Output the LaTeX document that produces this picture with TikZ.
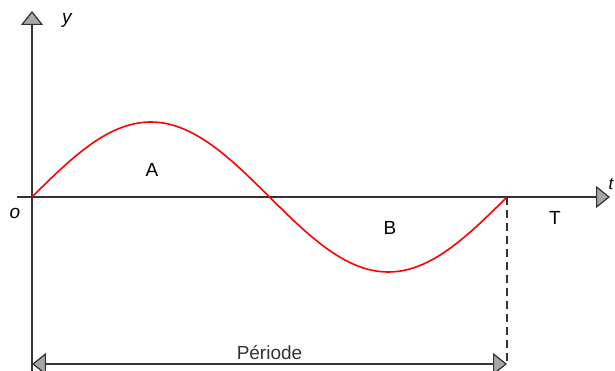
\documentclass[tikz,border=0pt]{standalone}
\usepackage{fontspec}
\setmainfont{Liberation Sans}
\usetikzlibrary{arrows.meta}

\begin{document}
\begin{tikzpicture}[
    x=1pt, y=1pt,
    >={Triangle[length=14pt, width=22pt, fill=gray!70]},
    line width=1.2pt,
    lbl/.style={font=\fontsize{19}{22}\selectfont, inner sep=0pt}
]

\useasboundingbox (-32,-174) rectangle (583,197);

% Reference points
\coordinate (O) at (0,0);
\coordinate (ytop) at (0,186);
\coordinate (ybot) at (0,-180);
\coordinate (xleft) at (-15,0);
\coordinate (xright) at (578,0);
\coordinate (Tend) at (475,0);
\coordinate (Tfoot) at (475,-168);
\coordinate (pleft) at (0,-167);
\coordinate (pright) at (475,-167);

% Axes
\draw[->, black!80] (ybot) -- (ytop);
\draw[->, black!80] (xleft) -- (xright);

% Axis labels
\node[lbl, font=\fontsize{19}{22}\selectfont\itshape] (ylab) at (35,177) {y};
\node[lbl, font=\fontsize{19}{22}\selectfont\itshape] (olab) at (-17,-16) {o};
\node[lbl, font=\fontsize{17}{20}\selectfont\itshape] (tlab) at (579,13) {t};

% Sine wave
\draw[red, line width=1.6pt]
    plot[domain=0:475, samples=120] (\x, {75*sin(\x/475*360)});

% Half-wave labels
\node[lbl] (A) at (120,27) {A};
\node[lbl] (B) at (358,-31) {B};
\node[lbl] (T) at (523,-21) {T};

% End of the period
\draw[dash pattern=on 8pt off 5pt, black!80] (Tend) -- (Tfoot);

% Period arrow
\draw[<->, black!80] (pleft) -- (pright)
    node[midway, above=4pt, lbl] (per) {Période};
\end{tikzpicture}
\end{document}
